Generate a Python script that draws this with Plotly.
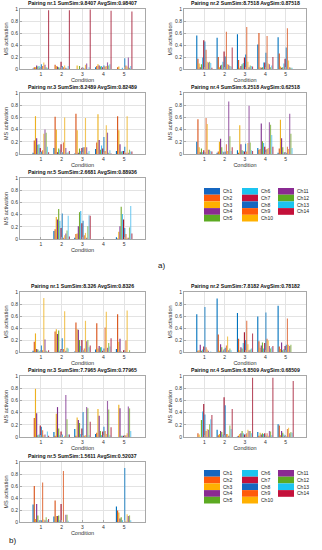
import plotly.graph_objects as go

W, H = 322, 550

CONDITIONS = [1, 2, 3, 4, 5]
CHANNELS = [f"Ch{i}" for i in range(1, 15)]
Y_TICKS = [0, 0.2, 0.4, 0.6, 0.8, 1]
Y_TICK_TEXT = ["0", "0.2", "0.4", "0.6", "0.8", "1"]

# values: one row per condition, 14 channel values in each
a1 = [
    [0.01, 0.03, 0.03, 0.06, 0.04, 0.05, 0.02, 0.08, 0.05, 0.11, 0.07, 0.03, 0.02, 0.98],
    [0.00, 0.07, 0.05, 0.04, 0.03, 0.02, 0.12, 0.05, 0.03, 0.06, 0.02, 0.01, 0.05, 0.98],
    [0.00, 0.00, 0.06, 0.00, 0.05, 0.00, 0.02, 0.02, 0.01, 0.07, 0.09, 0.00, 0.03, 0.99],
    [0.03, 0.05, 0.08, 0.06, 0.04, 0.05, 0.03, 0.06, 0.04, 0.05, 0.11, 0.06, 0.08, 0.97],
    [0.00, 0.03, 0.04, 0.00, 0.00, 0.02, 0.00, 0.18, 0.06, 0.04, 0.19, 0.02, 0.05, 0.96],
]
a2 = [
    [0.56, 0.17, 0.09, 0.03, 0.08, 0.19, 0.48, 0.46, 0.32, 0.12, 0.11, 0.12, 0.10, 0.02],
    [0.52, 0.20, 0.03, 0.06, 0.07, 0.12, 0.29, 0.21, 0.62, 0.08, 0.07, 0.05, 0.04, 0.36],
    [0.58, 0.15, 0.02, 0.05, 0.08, 0.10, 0.19, 0.24, 0.70, 0.12, 0.03, 0.06, 0.05, 0.04],
    [0.41, 0.60, 0.03, 0.02, 0.03, 0.11, 0.11, 0.27, 0.55, 0.09, 0.08, 0.03, 0.06, 0.20],
    [0.53, 0.26, 0.04, 0.02, 0.03, 0.09, 0.17, 0.36, 0.68, 0.14, 0.03, 0.02, 0.02, 0.00],
]
a3 = [
    [0.02, 0.22, 0.62, 0.26, 0.15, 0.16, 0.10, 0.04, 0.06, 0.33, 0.40, 0.35, 0.12, 0.03],
    [0.10, 0.61, 0.40, 0.03, 0.09, 0.07, 0.16, 0.03, 0.19, 0.60, 0.10, 0.02, 0.03, 0.05],
    [0.01, 0.66, 0.39, 0.02, 0.09, 0.05, 0.10, 0.11, 0.11, 0.59, 0.11, 0.02, 0.05, 0.00],
    [0.08, 0.19, 0.65, 0.23, 0.07, 0.14, 0.09, 0.28, 0.05, 0.47, 0.35, 0.02, 0.06, 0.01],
    [0.05, 0.62, 0.39, 0.16, 0.04, 0.05, 0.05, 0.12, 0.02, 0.62, 0.02, 0.07, 0.04, 0.04],
]
a4 = [
    [0.20, 0.57, 0.11, 0.03, 0.09, 0.03, 0.06, 0.03, 0.59, 0.49, 0.07, 0.07, 0.05, 0.04],
    [0.02, 0.04, 0.20, 0.25, 0.11, 0.04, 0.03, 0.04, 0.16, 0.05, 0.86, 0.29, 0.05, 0.11],
    [0.06, 0.02, 0.47, 0.16, 0.06, 0.05, 0.04, 0.17, 0.04, 0.18, 0.79, 0.19, 0.06, 0.05],
    [0.10, 0.07, 0.08, 0.50, 0.21, 0.18, 0.12, 0.07, 0.08, 0.10, 0.52, 0.48, 0.31, 0.12],
    [0.02, 0.09, 0.56, 0.26, 0.11, 0.03, 0.03, 0.02, 0.12, 0.08, 0.66, 0.33, 0.10, 0.00],
]
a5 = [
    [0.00, 0.00, 0.00, 0.00, 0.00, 0.00, 0.00, 0.00, 0.00, 0.00, 0.00, 0.00, 0.00, 0.00],
    [0.13, 0.16, 0.36, 0.32, 0.49, 0.30, 0.18, 0.42, 0.02, 0.06, 0.09, 0.14, 0.38, 0.04],
    [0.02, 0.08, 0.09, 0.21, 0.44, 0.46, 0.26, 0.30, 0.06, 0.10, 0.02, 0.21, 0.39, 0.38],
    [0.00, 0.00, 0.00, 0.00, 0.00, 0.00, 0.00, 0.00, 0.00, 0.00, 0.00, 0.00, 0.00, 0.00],
    [0.03, 0.01, 0.12, 0.21, 0.53, 0.41, 0.32, 0.18, 0.08, 0.02, 0.02, 0.19, 0.54, 0.09],
]
b1 = [
    [0.02, 0.17, 0.31, 0.05, 0.04, 0.02, 0.01, 0.11, 0.03, 0.90, 0.21, 0.02, 0.01, 0.03],
    [0.00, 0.34, 0.38, 0.30, 0.36, 0.02, 0.05, 0.23, 0.05, 0.68, 0.02, 0.07, 0.06, 0.00],
    [0.01, 0.49, 0.38, 0.37, 0.20, 0.10, 0.20, 0.03, 0.06, 0.52, 0.18, 0.20, 0.08, 0.11],
    [0.04, 0.48, 0.06, 0.10, 0.08, 0.08, 0.02, 0.06, 0.41, 0.67, 0.07, 0.15, 0.09, 0.23],
    [0.05, 0.63, 0.17, 0.22, 0.01, 0.00, 0.03, 0.02, 0.19, 0.69, 0.00, 0.03, 0.00, 0.00],
]
b2 = [
    [0.63, 0.02, 0.03, 0.12, 0.02, 0.04, 0.09, 0.75, 0.08, 0.04, 0.02, 0.00, 0.01, 0.00],
    [0.89, 0.29, 0.02, 0.13, 0.08, 0.02, 0.04, 0.07, 0.11, 0.26, 0.03, 0.06, 0.03, 0.00],
    [0.65, 0.22, 0.03, 0.08, 0.06, 0.15, 0.33, 0.20, 0.52, 0.13, 0.03, 0.04, 0.06, 0.31],
    [0.59, 0.18, 0.07, 0.11, 0.16, 0.06, 0.15, 0.66, 0.22, 0.19, 0.10, 0.06, 0.08, 0.10],
    [0.77, 0.09, 0.05, 0.16, 0.03, 0.05, 0.10, 0.12, 0.56, 0.12, 0.10, 0.12, 0.00, 0.00],
]
b3 = [
    [0.00, 0.31, 0.79, 0.39, 0.03, 0.04, 0.19, 0.17, 0.11, 0.03, 0.04, 0.00, 0.09, 0.02],
    [0.08, 0.02, 0.38, 0.49, 0.14, 0.03, 0.09, 0.04, 0.00, 0.02, 0.69, 0.29, 0.04, 0.04],
    [0.13, 0.02, 0.32, 0.28, 0.23, 0.05, 0.14, 0.41, 0.02, 0.03, 0.49, 0.47, 0.03, 0.25],
    [0.05, 0.07, 0.46, 0.35, 0.10, 0.03, 0.09, 0.17, 0.10, 0.05, 0.59, 0.45, 0.03, 0.16],
    [0.00, 0.00, 0.53, 0.47, 0.02, 0.02, 0.02, 0.02, 0.03, 0.06, 0.50, 0.47, 0.10, 0.00],
]
b4 = [
    [0.00, 0.06, 0.04, 0.00, 0.28, 0.42, 0.54, 0.37, 0.10, 0.13, 0.12, 0.21, 0.29, 0.36],
    [0.12, 0.03, 0.05, 0.10, 0.08, 0.04, 0.65, 0.52, 0.05, 0.05, 0.02, 0.19, 0.13, 0.46],
    [0.01, 0.02, 0.05, 0.06, 0.10, 0.06, 0.04, 0.04, 0.06, 0.12, 0.10, 0.10, 0.06, 0.97],
    [0.08, 0.02, 0.07, 0.04, 0.06, 0.05, 0.06, 0.02, 0.06, 0.02, 0.10, 0.09, 0.03, 0.97],
    [0.21, 0.19, 0.03, 0.10, 0.07, 0.04, 0.02, 0.01, 0.13, 0.15, 0.06, 0.08, 0.07, 0.92],
]
b5 = [
    [0.29, 0.60, 0.05, 0.30, 0.11, 0.03, 0.03, 0.03, 0.66, 0.04, 0.03, 0.08, 0.03, 0.05],
    [0.09, 0.36, 0.10, 0.10, 0.11, 0.03, 0.30, 0.00, 0.85, 0.00, 0.12, 0.12, 0.02, 0.00],
    [0.00, 0.00, 0.00, 0.00, 0.00, 0.00, 0.00, 0.00, 0.00, 0.00, 0.00, 0.00, 0.00, 0.00],
    [0.00, 0.00, 0.00, 0.00, 0.00, 0.00, 0.00, 0.00, 0.00, 0.00, 0.00, 0.00, 0.00, 0.00],
    [0.26, 0.19, 0.16, 0.06, 0.08, 0.03, 0.00, 0.90, 0.01, 0.13, 0.10, 0.11, 0.03, 0.00],
]

TITLES_A = [
    "Pairing nr.1 SumSim:9.8407 AvgSim:0.98407",
    "Pairing nr.2 SumSim:8.7518 AvgSim:0.87518",
    "Pairing nr.3 SumSim:8.2489 AvgSim:0.82489",
    "Pairing nr.4 SumSim:6.2518 AvgSim:0.62518",
    "Pairing nr.5 SumSim:2.6681 AvgSim:0.88936",
]
TITLES_B = [
    "Pairing nr.1 SumSim:8.326 AvgSim:0.8326",
    "Pairing nr.2 SumSim:7.8182 AvgSim:0.78182",
    "Pairing nr.3 SumSim:7.7965 AvgSim:0.77965",
    "Pairing nr.4 SumSim:6.8509 AvgSim:0.68509",
    "Pairing nr.5 SumSim:1.5611 AvgSim:0.52037",
]

BASE = ["#0072BD", "#D95319", "#EDB120", "#7E2F8E", "#77AC30", "#4DBEEE", "#A2142F"]
LEGEND_BASE = ["#1566C0", "#FF5A0A", "#FFB000", "#8A2A92", "#5CAA22", "#1CC4F0", "#C4103A"]


def hex_rgba(h, a):
    h = h.lstrip("#")
    r, g, b = int(h[0:2], 16), int(h[2:4], 16), int(h[4:6], 16)
    return f"rgba({r},{g},{b},{a})"


BAR_COLORS = [hex_rgba(c, 1.0) for c in BASE] + [hex_rgba(c, 0.75) for c in BASE]
LEGEND_COLORS = LEGEND_BASE + LEGEND_BASE

GROUP_WIDTH = 0.8
SLOT = GROUP_WIDTH / 14
BAR_W = SLOT * 0.95


def fx(p):
    return p / W


def fy(p):
    return 1 - p / H


LEFT = (20, 145)
RIGHT = (184, 306)
panels = [
    (a1, TITLES_A[0], LEFT, (9, 69)),
    (a2, TITLES_A[1], RIGHT, (9, 69)),
    (a3, TITLES_A[2], LEFT, (93, 154)),
    (a4, TITLES_A[3], RIGHT, (93, 154)),
    (a5, TITLES_A[4], LEFT, (178, 239)),
    (b1, TITLES_B[0], LEFT, (292, 352)),
    (b2, TITLES_B[1], RIGHT, (292, 352)),
    (b3, TITLES_B[2], LEFT, (376, 437)),
    (b4, TITLES_B[3], RIGHT, (376, 437)),
    (b5, TITLES_B[4], LEFT, (462, 522)),
]

FONT = "Liberation Sans, Arial, sans-serif"
fig = go.Figure()
annotations = []
shapes = []
layout_axes = {}

for i, (data, title, (x0, x1), (y0, y1)) in enumerate(panels):
    n = i + 1
    xa = "x" if n == 1 else f"x{n}"
    ya = "y" if n == 1 else f"y{n}"
    for ch in range(14):
        fig.add_trace(go.Bar(
            x=CONDITIONS,
            y=[data[c][ch] for c in range(len(CONDITIONS))],
            name=CHANNELS[ch],
            width=BAR_W,
            offset=-GROUP_WIDTH / 2 + ch * SLOT + (SLOT - BAR_W) / 2,
            marker=dict(color=BAR_COLORS[ch], line=dict(width=0)),
            xaxis=xa, yaxis=ya, showlegend=False,
        ))
    xkey = "xaxis" if n == 1 else f"xaxis{n}"
    ykey = "yaxis" if n == 1 else f"yaxis{n}"
    layout_axes[xkey] = dict(
        domain=[fx(x0), fx(x1)], anchor=ya, range=[0, 6],
        tickvals=CONDITIONS, ticktext=[str(c) for c in CONDITIONS],
        showgrid=True, gridcolor="#e3e3e3", gridwidth=1,
        showline=True, mirror=True, linecolor="#a8a8a8", linewidth=1,
        ticks="inside", ticklen=2, tickcolor="#a8a8a8",
        tickfont=dict(size=5, color="#333", family=FONT),
        title=dict(text="Condition", font=dict(size=5.5, color="#333", family=FONT), standoff=1),
        zeroline=False, automargin=False, fixedrange=True,
    )
    layout_axes[ykey] = dict(
        domain=[fy(y1), fy(y0)], anchor=xa, range=[0, 1],
        tickvals=Y_TICKS, ticktext=Y_TICK_TEXT,
        showgrid=True, gridcolor="#e3e3e3", gridwidth=1,
        showline=True, mirror=True, linecolor="#a8a8a8", linewidth=1,
        ticks="inside", ticklen=2, tickcolor="#a8a8a8",
        tickfont=dict(size=5, color="#333", family=FONT),
        title=dict(text="MS activation", font=dict(size=5.5, color="#333", family=FONT), standoff=2),
        zeroline=False, automargin=False, fixedrange=True,
    )
    annotations.append(dict(
        text=f"<b>{title}</b>", x=fx((x0 + x1) / 2), y=fy(y0 - 1),
        xref="paper", yref="paper", xanchor="center", yanchor="bottom",
        showarrow=False, font=dict(size=5.2, color="#111", family=FONT),
    ))

# legends (swatches + labels)
for top in (188, 470):
    for ch in range(14):
        col, row = divmod(ch, 5)
        sx = [204, 242, 278][col]
        sy = top + row * 6.7
        shapes.append(dict(
            type="rect", xref="paper", yref="paper",
            x0=fx(sx), x1=fx(sx + 16), y0=fy(sy + 6.7), y1=fy(sy),
            fillcolor=LEGEND_COLORS[ch], line=dict(width=0),
        ))
        annotations.append(dict(
            text=CHANNELS[ch], x=fx(sx + 17), y=fy(sy + 3.35),
            xref="paper", yref="paper", xanchor="left", yanchor="middle",
            showarrow=False, font=dict(size=5, color="#222", family=FONT),
        ))

annotations.append(dict(text="a)", x=fx(156), y=fy(265), xref="paper", yref="paper",
                        xanchor="left", yanchor="middle", showarrow=False,
                        font=dict(size=8, color="#111", family=FONT)))
annotations.append(dict(text="b)", x=fx(7), y=fy(540), xref="paper", yref="paper",
                        xanchor="left", yanchor="middle", showarrow=False,
                        font=dict(size=8, color="#111", family=FONT)))

fig.update_layout(
    width=W, height=H, autosize=False,
    margin=dict(l=0, r=0, t=0, b=0, pad=0),
    paper_bgcolor="white", plot_bgcolor="white",
    barmode="overlay",
    showlegend=False,
    annotations=annotations, shapes=shapes,
    font=dict(family=FONT),
    **layout_axes,
)

fig.write_html(
    "out.html",
    config={"displayModeBar": False, "staticPlot": True},
    post_script="document.body.style.margin='0';document.body.style.overflow='hidden';",
)
